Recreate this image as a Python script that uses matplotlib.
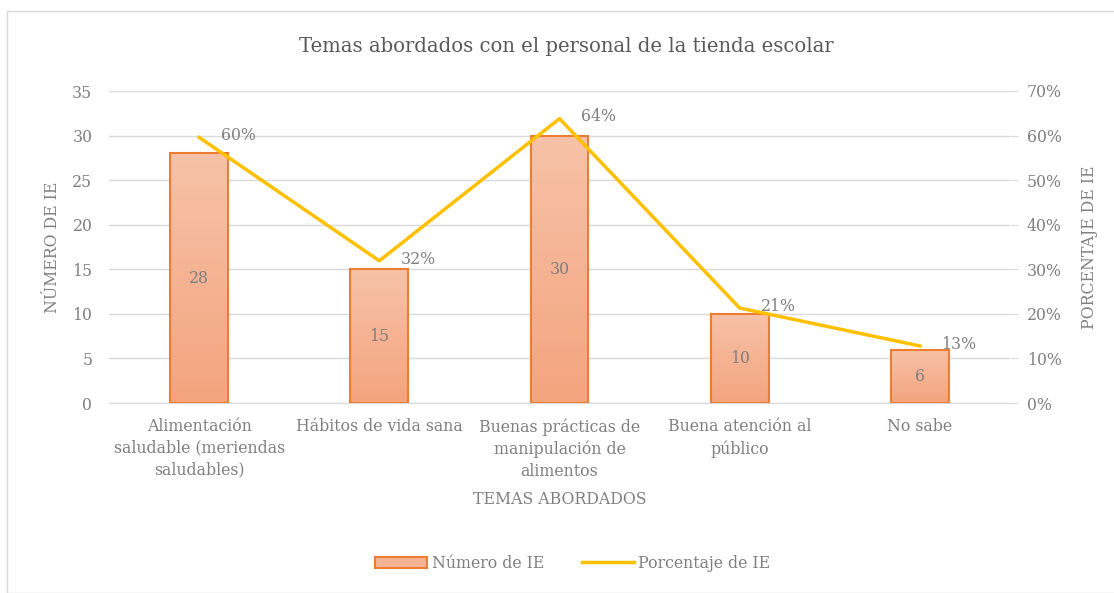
import numpy as np
import matplotlib.pyplot as plt
from matplotlib.ticker import MultipleLocator, PercentFormatter
from matplotlib.colors import LinearSegmentedColormap
from matplotlib.patches import Rectangle

temas = ['Alimentación\nsaludable (meriendas\nsaludables)', 'Hábitos de vida sana',
         'Buenas prácticas de\nmanipulación de\nalimentos', 'Buena atención al\npúblico', 'No sabe']
numero = [28, 15, 30, 10, 6]
porcentaje = [0.596, 0.319, 0.638, 0.213, 0.128]
etiquetas_pct = ['60%', '32%', '64%', '21%', '13%']

plt.rcParams['font.family'] = ['DejaVu Serif']
gris = '#7f7f7f'
fs = 11.3

fig = plt.figure(figsize=(11.14, 5.93), dpi=100)
fig.patches.append(Rectangle((7 / 1114, 0), 1.2, 582 / 593, transform=fig.transFigure,
                             fill=False, edgecolor='#d9d9d9', linewidth=1))
ax = fig.add_axes([109 / 1114, 1 - 403 / 593, 901 / 1114, 312 / 593])
ax2 = ax.twinx()

x = np.arange(len(temas))
bars = ax.bar(x, numero, width=0.32, color='none', edgecolor='#ed7d31', linewidth=1.5, zorder=3,
              label='Número de IE')
cmap = LinearSegmentedColormap.from_list('grad', ['#f4a47e', '#f7c2a8'])
grad = np.linspace(0, 1, 256).reshape(-1, 1)
for b in bars:
    im = ax.imshow(grad, cmap=cmap, origin='lower', aspect='auto', zorder=2,
                   extent=[b.get_x(), b.get_x() + b.get_width(), 0, b.get_height()])
    im.set_clip_path(b)
for xi, v in zip(x, numero):
    ax.text(xi, v / 2, str(v), ha='center', va='center', color=gris, fontsize=fs, zorder=4)

ax.set_xlim(-0.5, len(temas) - 0.5)
ax.set_ylim(0, 35)
ax.yaxis.set_major_locator(MultipleLocator(5))
ax.grid(axis='y', color='#d9d9d9', linewidth=1, zorder=0)
ax.set_axisbelow(True)
for s in ['top', 'right', 'left']:
    ax.spines[s].set_visible(False)
    ax2.spines[s].set_visible(False)
ax.spines['bottom'].set_color('#d9d9d9')
ax2.spines['bottom'].set_visible(False)
ax.tick_params(axis='y', length=0, labelcolor=gris, labelsize=fs, pad=12)
ax.tick_params(axis='x', length=0, labelcolor=gris, labelsize=fs, pad=11)
ax.set_xticks(x)
ax.set_xticklabels(temas, linespacing=1.35, va='top')
ax.set_ylabel('NÚMERO DE IE', color=gris, fontsize=fs, labelpad=8)
ax.set_xlabel('TEMAS ABORDADOS', color=gris, fontsize=fs, labelpad=8)

line, = ax2.plot(x, porcentaje, color='#ffc000', linewidth=2.5, zorder=5, label='Porcentaje de IE')
for xi, p, t in zip(x, porcentaje, etiquetas_pct):
    ax2.text(xi + 0.12, p + 0.004, t, ha='left', va='center', color=gris, fontsize=fs)
ax2.set_ylim(0, 0.7)
ax2.yaxis.set_major_locator(MultipleLocator(0.1))
ax2.yaxis.set_major_formatter(PercentFormatter(1.0, decimals=0))
ax2.tick_params(axis='y', length=6, color='#d9d9d9', labelcolor=gris, labelsize=fs, pad=6)
ax2.set_ylabel('PORCENTAJE DE IE', color=gris, fontsize=fs, labelpad=14)
ax.set_zorder(1)
ax2.set_zorder(2)

fig.text(566 / 1114, 1 - 46 / 593, 'Temas abordados con el personal de la tienda escolar',
         ha='center', va='center', color='#595959', fontsize=14.1)
proxy = Rectangle((0, 0), 1, 1, facecolor='#f6b394', edgecolor='#ed7d31', linewidth=1.5)
fig.legend([proxy, line], ['Número de IE', 'Porcentaje de IE'], loc='center',
           bbox_to_anchor=(573 / 1114, 1 - 563 / 593), ncol=2, frameon=False,
           labelcolor=gris, fontsize=fs, handlelength=3.3, handleheight=0.7,
           handletextpad=0.3, columnspacing=2.4)

fig.savefig('out.png', dpi=100)
